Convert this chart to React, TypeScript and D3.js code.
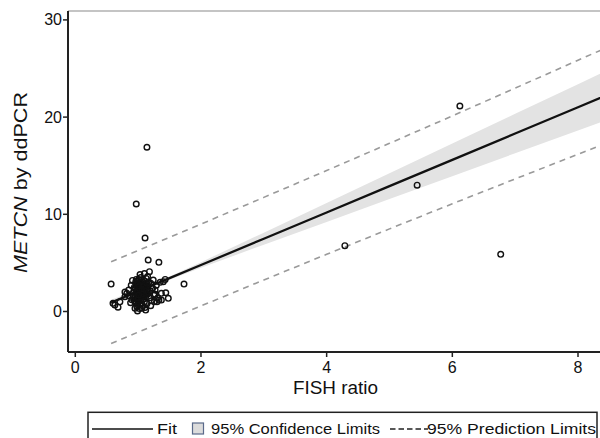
import React from "react";
import * as d3 from "d3";

const xTicks = [0, 2, 4, 6, 8];
const yTicks = [0, 10, 20, 30];

// fitted line & limits
const bandX = [0.57, 1, 1.5, 2, 3, 4, 5, 6, 7, 8, 8.5];
const fitY = [0.91, 2.08, 3.43, 4.78, 7.49, 10.19, 12.9, 15.6, 18.31, 21.01, 22.36];
const ciHalf = [0.3, 0.18, 0.17, 0.29, 0.62, 0.97, 1.32, 1.68, 2.03, 2.38, 2.56];
const piHalf = [4.21, 4.2, 4.2, 4.21, 4.25, 4.31, 4.4, 4.52, 4.67, 4.84, 4.92];

// observations
const pointsX = [
  1.14, 0.97, 1.11, 4.29, 6.77, 5.44, 6.12, 0.57, 1.16, 1.33, 1.18, 1.73, 1.43, 1.44, 1.33,
  1.12, 0.99, 0.82, 0.68, 0.6, 1.24, 1.4, 1.37, 1.37, 1.27, 1.11, 0.98, 0.79, 1.23, 1.3, 1.48,
  0.63, 0.71, 0.79, 0.95, 1.06,
  0.9, 0.92, 0.93, 0.94, 0.95, 0.95, 0.96, 0.97, 0.97, 0.98, 0.98, 0.99, 0.99, 1.0, 1.0, 1.0,
  1.01, 1.01, 1.02, 1.02, 1.03, 1.03, 1.04, 1.04, 1.05, 1.05, 1.06, 1.06, 1.07, 1.07, 1.08,
  1.08, 1.09, 1.09, 1.1, 1.1, 1.11, 1.12, 1.12, 1.13, 1.14, 1.14, 1.15, 1.16, 1.17, 1.18,
  1.19, 1.2, 1.21, 1.22, 1.25, 1.27, 1.29, 1.31, 1.35, 0.86, 0.88, 0.85, 0.89, 0.91, 1.03,
  1.1, 1.15, 1.02, 1.2, 1.26,
  0.96, 0.98, 1.0, 1.01, 1.03, 1.04, 1.05, 1.07, 1.08, 1.09, 1.11, 1.13, 0.97, 0.99, 1.02,
  1.04, 1.06, 1.08, 1.1, 1.12, 1.0, 1.03, 1.05, 1.07, 0.94, 0.96, 1.14, 1.16, 1.01, 1.06
];
const pointsY = [
  16.9, 11.06, 7.56, 6.77, 5.88, 13.0, 21.14, 2.82, 5.3, 5.06, 4.1, 2.82, 3.3, 1.93, 1.18,
  0.15, 0.05, 1.87, 0.45, 0.84, 3.24, 3.07, 1.18, 1.87, 1.77, 0.4, 0.5, 2.0, 2.39, 1.0, 1.36,
  0.67, 1.0, 1.52, 0.33, 0.33,
  1.2, 1.5, 2.0, 1.1, 2.4, 1.7, 0.9, 2.8, 1.3, 2.1, 3.1, 1.6, 0.7, 2.5, 1.9, 1.0,
  3.3, 2.2, 1.4, 2.9, 1.8, 0.8, 2.6, 3.5, 1.2, 2.0, 2.7, 1.6, 3.0, 0.6, 2.3,
  1.9, 1.3, 3.2, 2.5, 1.0, 2.0, 2.8, 1.5, 3.4, 2.2, 0.8, 1.8, 2.6, 3.0, 1.4,
  2.1, 2.9, 1.1, 2.4, 1.7, 2.2, 2.7, 1.4, 3.0, 1.6, 0.9, 2.2, 2.7, 3.2, 3.8,
  3.9, 3.6, 0.3, 0.6, 1.0,
  1.9, 2.4, 2.8, 1.5, 2.3, 1.1, 2.9, 2.5, 1.6, 2.0, 2.6, 1.9, 3.3, 1.2, 2.6,
  1.9, 2.2, 2.8, 1.6, 2.4, 1.4, 3.0, 1.5, 1.8, 2.5, 3.0, 2.9, 2.0, 1.7, 3.2
];

const W = 600;
const H = 438;
const left = 68;
const right = 600;
const top = 11;
const bottom = 352;

export default function App() {
  const x = d3.scaleLinear().domain([0, 8]).range([75.3, 578]);
  const y = d3.scaleLinear().domain([0, 30]).range([311.5, 19.9]);
  const idx = bandX.map((_, i) => i);

  const ciArea = d3
    .area<number>()
    .x((i) => x(bandX[i]))
    .y0((i) => y(fitY[i] - ciHalf[i]))
    .y1((i) => y(fitY[i] + ciHalf[i]));
  const line = (f: (i: number) => number) =>
    d3
      .line<number>()
      .x((i) => x(bandX[i]))
      .y((i) => y(f(i)))(idx) || "";

  const font = "Liberation Sans, Arial, sans-serif";

  return (
    <svg
      width={W}
      height={H}
      style={{ position: "absolute", left: 0, top: 0, background: "#fff" }}
      fontFamily={font}
    >
      <defs>
        <clipPath id="plot">
          <rect x={left} y={top} width={right - left} height={bottom - top} />
        </clipPath>
      </defs>
      <g clipPath="url(#plot)">
        <path d={ciArea(idx) || ""} fill="#e3e3e3" />
        <path
          d={line((i) => fitY[i] + piHalf[i])}
          fill="none"
          stroke="#9a9a9a"
          strokeWidth={1.6}
          strokeDasharray="6 5"
        />
        <path
          d={line((i) => fitY[i] - piHalf[i])}
          fill="none"
          stroke="#9a9a9a"
          strokeWidth={1.6}
          strokeDasharray="6 5"
        />
        <path d={line((i) => fitY[i])} fill="none" stroke="#111" strokeWidth={2.3} />
        {pointsX.map((px, i) => (
          <circle
            key={i}
            cx={x(px)}
            cy={y(pointsY[i])}
            r={2.8}
            fill="none"
            stroke="#111"
            strokeWidth={1.4}
          />
        ))}
      </g>
      {/* frame */}
      <line x1={left} x2={right} y1={top} y2={top} stroke="#8a8a8a" strokeWidth={1.2} />
      <line x1={left} x2={right} y1={bottom} y2={bottom} stroke="#222" strokeWidth={2} />
      <line x1={left} x2={left} y1={top} y2={bottom} stroke="#222" strokeWidth={2} />
      {/* y ticks */}
      {yTicks.map((t) => (
        <g key={t}>
          <line x1={left - 5} x2={left} y1={y(t)} y2={y(t)} stroke="#222" strokeWidth={1.5} />
          <text x={left - 6} y={y(t) + 5.5} textAnchor="end" fontSize={16} fill="#111">
            {t}
          </text>
        </g>
      ))}
      {/* x ticks */}
      {xTicks.map((t) => (
        <g key={t}>
          <line x1={x(t)} x2={x(t)} y1={bottom} y2={bottom + 5} stroke="#222" strokeWidth={1.5} />
          <text x={x(t)} y={372.7} textAnchor="middle" fontSize={16} fill="#111">
            {t}
          </text>
        </g>
      ))}
      <text
        x={293}
        y={394.3}
        fontSize={17.5}
        fill="#111"
        textLength={85}
        lengthAdjust="spacingAndGlyphs"
      >
        FISH ratio
      </text>
      <text
        transform="translate(26.5,273) rotate(-90)"
        fontSize={18.5}
        fill="#111"
        textLength={181}
        lengthAdjust="spacingAndGlyphs"
      >
        <tspan fontStyle="italic">METCN</tspan> by ddPCR
      </text>
      {/* legend */}
      <rect x={88} y={412.3} width={509} height={40} fill="none" stroke="#222" strokeWidth={1.5} />
      <line x1={92} x2={153} y1={429} y2={429} stroke="#111" strokeWidth={1.6} />
      <text x={157} y={434} fontSize={14.5} fill="#111" textLength={20} lengthAdjust="spacingAndGlyphs">
        Fit
      </text>
      <rect x={192.5} y={423} width={11} height={11} fill="#dcdcdc" stroke="#5a6a8a" strokeWidth={1.2} />
      <text x={211} y={434} fontSize={14.5} fill="#111" textLength={169} lengthAdjust="spacingAndGlyphs">
        95% Confidence Limits
      </text>
      <line
        x1={390}
        x2={428}
        y1={429}
        y2={429}
        stroke="#222"
        strokeWidth={1.5}
        strokeDasharray="5.5 3"
      />
      <text x={427} y={434} fontSize={14.5} fill="#111" textLength={169} lengthAdjust="spacingAndGlyphs">
        95% Prediction Limits
      </text>
    </svg>
  );
}
